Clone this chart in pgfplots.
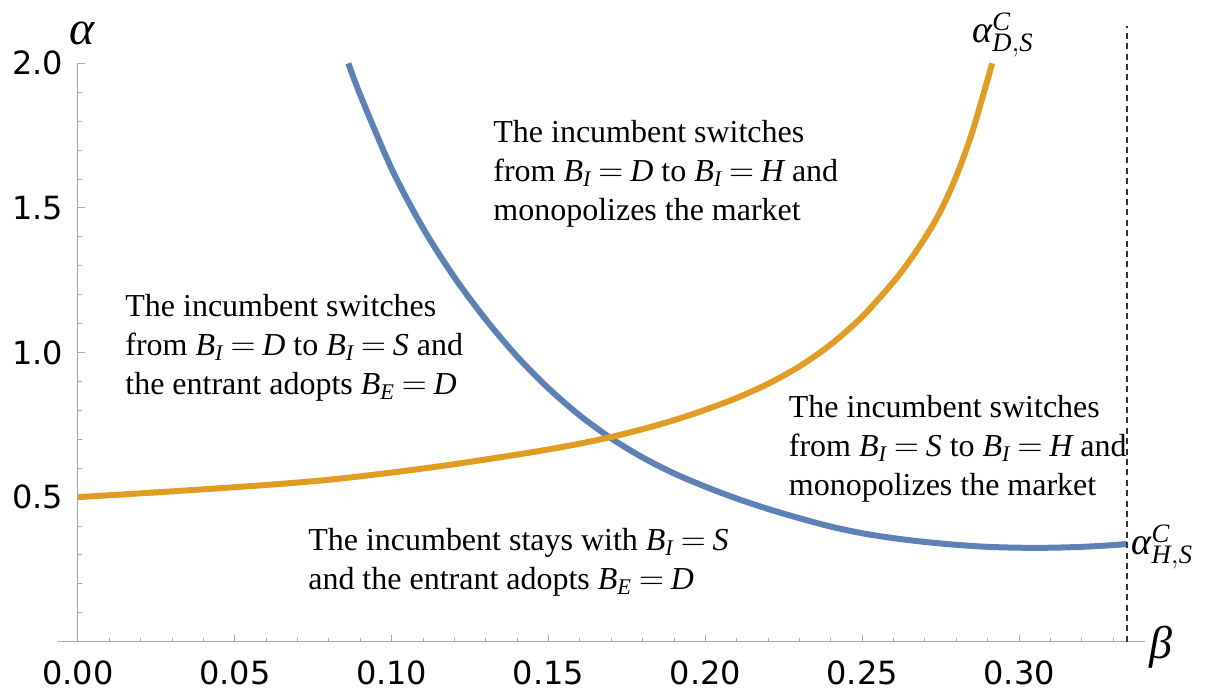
\documentclass[border=0pt]{standalone}
\usepackage{pgfplots}
\pgfplotsset{compat=1.18}
\usepackage{fontspec}
\setmainfont{Liberation Serif}
\newfontfamily\tickfont{DejaVu Sans}
\definecolor{mblue}{RGB}{94,129,181}
\definecolor{morange}{RGB}{225,156,36}
\newcommand{\eqB}[2]{$\mathit{B}_{\mathit{#1}}\mskip3.6mu\mathrm{=}\mskip3.6mu\mathit{#2}$}
\begin{document}
\begin{tikzpicture}
\begin{axis}[
  scale only axis, width=543.7pt, height=289.3pt,
  xmin=-0.0065, xmax=0.340, ymin=0, ymax=2,
  axis lines=middle,
  axis line style={-, gray!70, line width=0.5pt},
  hide obscured x ticks=false, hide obscured y ticks=false,
  xtick={0,0.05,0.1,0.15,0.2,0.25,0.3},
  xticklabels={0.00,0.05,0.10,0.15,0.20,0.25,0.30},
  ytick={0.5,1,1.5,2},
  yticklabels={0.5,1.0,1.5,2.0},
  minor xtick={0.01,0.02,0.03,0.04,0.06,0.07,0.08,0.09,0.11,0.12,0.13,0.14,0.16,0.17,0.18,0.19,0.21,0.22,0.23,0.24,0.26,0.27,0.28,0.29,0.31,0.32,0.33},
  minor ytick={0.1,0.2,0.3,0.4,0.6,0.7,0.8,0.9,1.1,1.2,1.3,1.4,1.6,1.7,1.8,1.9},
  tick align=inside,
  major tick length=3.5pt, minor tick length=2pt,
  tick style={gray!70, line width=0.5pt},
  /pgf/number format/assume math mode=true,
  ticklabel style={font=\tickfont\fontsize{16}{16}\selectfont, text=black},
  xticklabel style={anchor=north, yshift=-6pt},
  yticklabel style={anchor=east, xshift=-4pt},
  clip=false,
]
\addplot[mblue, line width=3pt, smooth] coordinates {
(0.0862,2.000) (0.09,1.890) (0.10,1.635) (0.11,1.430) (0.12,1.260) (0.13,1.114)
(0.14,0.986) (0.15,0.876) (0.16,0.782) (0.17,0.703) (0.18,0.637) (0.19,0.582)
(0.20,0.536) (0.21,0.495) (0.22,0.459) (0.23,0.427) (0.24,0.398) (0.25,0.375)
(0.26,0.358) (0.27,0.345) (0.28,0.335) (0.29,0.328) (0.30,0.325) (0.31,0.325)
(0.32,0.328) (0.33,0.334) (0.3345,0.338)};
\addplot[morange, line width=3pt, smooth] coordinates {
(0,0.500) (0.02,0.513) (0.04,0.527) (0.06,0.542) (0.08,0.560) (0.10,0.585)
(0.12,0.614) (0.14,0.647) (0.15,0.665) (0.16,0.685) (0.17,0.708) (0.18,0.735)
(0.19,0.766) (0.20,0.802) (0.21,0.843) (0.22,0.892) (0.23,0.952) (0.24,1.028)
(0.25,1.124) (0.26,1.245) (0.265,1.316) (0.27,1.396) (0.275,1.490) (0.28,1.610)
(0.285,1.760) (0.29,1.945) (0.2914,2.000)};
\addplot[black!80, line width=0.9pt, dash pattern=on 3pt off 2.2pt] coordinates {(0.3345,0) (0.3345,2.13)};

\node[anchor=north west, inner sep=0, align=left, font=\fontsize{16}{19.5}\selectfont]
  at (axis cs:0.1323,1.805) {The incumbent switches\\from \eqB{I}{D} to \eqB{I}{H} and\\monopolizes the market};
\node[anchor=north west, inner sep=0, align=left, font=\fontsize{16}{19.5}\selectfont]
  at (axis cs:0.0150,1.203) {The incumbent switches\\from \eqB{I}{D} to \eqB{I}{S} and\\the entrant adopts \eqB{E}{D}};
\node[anchor=north west, inner sep=0, align=left, font=\fontsize{16}{19.5}\selectfont]
  at (axis cs:0.2265,0.854) {The incumbent switches\\from \eqB{I}{S} to \eqB{I}{H} and\\monopolizes the market};
\node[anchor=north west, inner sep=0, align=left, font=\fontsize{16}{19.5}\selectfont]
  at (axis cs:0.0733,0.394) {The incumbent stays with \eqB{I}{S}\\and the entrant adopts \eqB{E}{D}};

\node[anchor=south, inner sep=0, font=\fontsize{24}{24}\selectfont\itshape, yshift=9pt]
  at (axis cs:0.0012,2.0) {α};
\node[anchor=west, inner sep=0, font=\fontsize{23}{23}\selectfont\itshape, xshift=2.5pt, yshift=-3pt]
  at (axis cs:0.340,0) {β};
\node[anchor=base west, inner sep=0, font=\fontsize{19}{19}\selectfont]
  at (axis cs:0.2850,2.0705) {$\mbox{\itshape α}^{\mathit{C}}_{\mathit{D,S}}$};
\node[anchor=base west, inner sep=0, font=\fontsize{19}{19}\selectfont]
  at (axis cs:0.3358,0.3007) {$\mbox{\itshape α}^{\mathit{C}}_{\mathit{H,S}}$};

\coordinate (bbl) at (axis cs:-0.02486,-0.1728);
\coordinate (btr) at (axis cs:0.3599,2.219);
\end{axis}
\pgfresetboundingbox
\path[use as bounding box] (bbl) rectangle (btr);
\end{tikzpicture}
\end{document}
